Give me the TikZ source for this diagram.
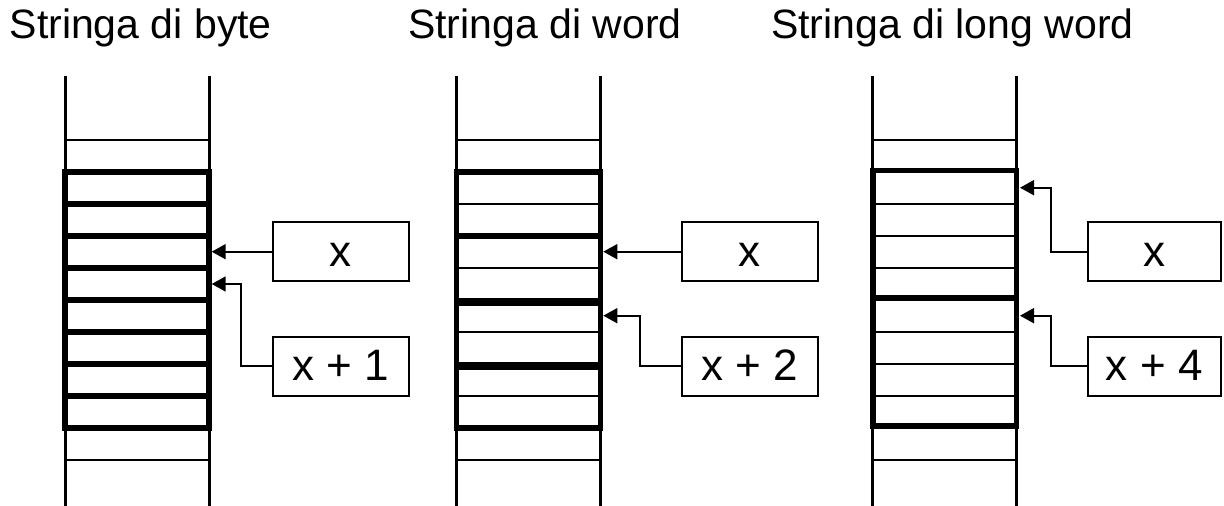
\documentclass[tikz,border=0pt]{standalone}
\usepackage{fontspec}
\setmainfont{Liberation Sans}
\usetikzlibrary{arrows.meta}
\begin{document}
\begin{tikzpicture}[x=1pt,y=-1pt,
  col/.style={line width=3pt},
  thinln/.style={line width=2pt},
  thickln/.style={line width=5.5pt},
  thickerln/.style={line width=8pt},
  lbl/.style={draw, line width=2pt, minimum width=136pt, minimum height=59pt, inner sep=0pt, font=\fontsize{44}{50}\selectfont, text height=29pt, text depth=0pt},
  ttl/.style={anchor=base west, inner sep=0pt, font=\fontsize{41}{48}\selectfont},
  arr/.style={line width=1.8pt, -{Triangle[length=14pt,width=15pt]}}
]
\useasboundingbox (0,0) rectangle (1224,506);

% titles
\node[ttl] (t1) at (9.5,38.3) {Stringa di byte};
\node[ttl] (t2) at (408,38.3) {Stringa di word};
\node[ttl] (t3) at (771,38.3) {Stringa di long word};

% ---------- column 1 (bytes)
\draw[col] (65,76) -- (65,506);
\draw[col] (209,76) -- (209,506);
\draw[thinln] (65,140) -- (209,140);
\draw[thinln] (65,460) -- (209,460);
\draw[thickln] (65,172) rectangle (209,428);
\foreach \yy in {204,236,268,300,332,364,396}
  \draw[thickln] (65,\yy) -- (209,\yy);

% ---------- column 2 (words)
\draw[col] (456,76) -- (456,506);
\draw[col] (600.5,76) -- (600.5,506);
\draw[thinln] (456,140) -- (600.5,140);
\draw[thinln] (456,460) -- (600.5,460);
\foreach \yy in {204,268,332,396}
  \draw[thinln] (456,\yy) -- (600.5,\yy);
\draw[thickln] (456.5,172) rectangle (600.5,428);
\draw[thickln] (456.5,236) -- (600.5,236);
\draw[thickerln] (456.5,301.5) -- (600.5,301.5);
\draw[thickerln] (456.5,365.5) -- (600.5,365.5);

% ---------- column 3 (long words)
\draw[col] (872.5,76) -- (872.5,506);
\draw[col] (1016.5,76) -- (1016.5,506);
\draw[thinln] (872.5,140) -- (1016.5,140);
\draw[thinln] (872.5,460) -- (1016.5,460);
\foreach \yy in {204,236,268,332,364,396}
  \draw[thinln] (872.5,\yy) -- (1016.5,\yy);
\draw[thickln] (873,170.5) rectangle (1016.5,426);
\draw[thickln] (873,298) -- (1016.5,298);

% ---------- address boxes
\node[lbl] (b11) at (340.5,251.7) {x};
\node[lbl] (b12) at (340.5,366) {x + 1};
\node[lbl] (b21) at (749.7,251.7) {x};
\node[lbl] (b22) at (749.7,366) {x + 2};
\node[lbl, minimum width=133pt] (b31) at (1154.2,251.7) {x};
\node[lbl, minimum width=133pt] (b32) at (1154.2,366) {x + 4};

% arrow tips
\coordinate (a11) at (211.7,251.7);
\coordinate (a12) at (211.7,284);
\coordinate (a21) at (603.3,251.7);
\coordinate (a22) at (603.3,315.7);
\coordinate (a31) at (1020,187.7);
\coordinate (a32) at (1020,315.7);

\draw[arr] (b11.west) -- (a11);
\draw[arr] (b12.west) -- ++(-30.6,0) |- (a12);
\draw[arr] (b21.west) -- (a21);
\draw[arr] (b22.west) -- ++(-40.7,0) |- (a22);
\draw[arr] (b31.west) -- ++(-35.4,0) |- (a31);
\draw[arr] (b32.west) -- ++(-35.4,0) |- (a32);
\end{tikzpicture}
\end{document}
